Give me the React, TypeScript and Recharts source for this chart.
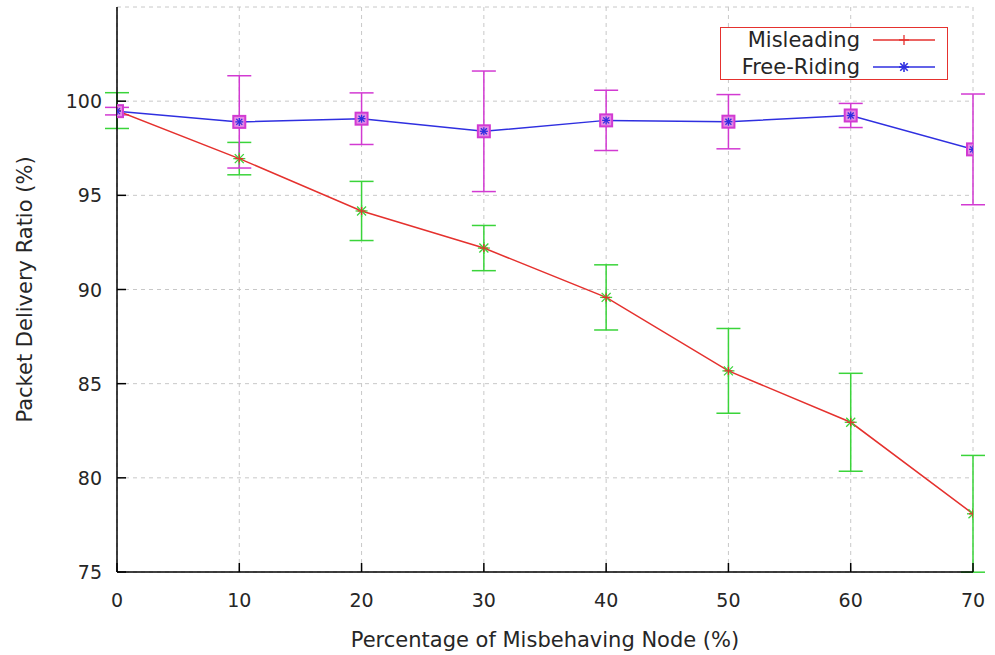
import React from 'react';
import { LineChart, Line, XAxis, YAxis, CartesianGrid, ErrorBar } from 'recharts';

const percentages = [0, 10, 20, 30, 40, 50, 60, 70];
const misleadingPdr = [99.5, 96.95, 94.17, 92.2, 89.58, 85.68, 82.95, 78.09];
const misleadingErr = [0.95, 0.86, 1.57, 1.2, 1.73, 2.25, 2.6, 3.1];
const freeRidingPdr = [99.47, 98.9, 99.07, 98.4, 98.98, 98.91, 99.24, 97.44];
const freeRidingErr = [0.2, 2.45, 1.37, 3.2, 1.6, 1.44, 0.64, 2.94];
const xTicks = [0, 10, 20, 30, 40, 50, 60, 70];
const yTicks = [75, 80, 85, 90, 95, 100];

const data = percentages.map((p, i) => ({
  pct: p,
  ml: misleadingPdr[i],
  mlErr: misleadingErr[i],
  fr: freeRidingPdr[i],
  frErr: freeRidingErr[i],
}));

const FONT = '"DejaVu Sans", sans-serif';
const TEXT = '#262626';
const RED = '#e5312e';
const BLUE = '#2f2fe0';
const GREEN = '#3ad43a';
const MAGENTA = '#d23ad2';

const BottomTick = (p: any) => (
  <g>
    <line x1={p.x} x2={p.x} y1={p.y} y2={p.y - 9} stroke="#000" strokeWidth={1.5} />
    <text x={p.x} y={p.y + 35} textAnchor="middle" fontSize={19} fill={TEXT} fontFamily={FONT}>
      {p.payload.value}
    </text>
  </g>
);
const TopTick = (p: any) => <line x1={p.x} x2={p.x} y1={p.y} y2={p.y + 9} stroke="#000" strokeWidth={1.5} />;
const LeftTick = (p: any) => (
  <g>
    <line x1={p.x} x2={p.x + 9} y1={p.y} y2={p.y} stroke="#000" strokeWidth={1.5} />
    <text x={p.x - 15} y={p.y + 7} textAnchor="end" fontSize={19} fill={TEXT} fontFamily={FONT}>
      {p.payload.value}
    </text>
  </g>
);
const RightTick = (p: any) => <line x1={p.x} x2={p.x - 9} y1={p.y} y2={p.y} stroke="#000" strokeWidth={1.5} />;

const Star = ({ cx, cy, r, color, w = 1.3 }: any) => (
  <g stroke={color} strokeWidth={w}>
    <line x1={cx - r} x2={cx + r} y1={cy} y2={cy} />
    <line x1={cx} x2={cx} y1={cy - r} y2={cy + r} />
    <line x1={cx - r * 0.75} x2={cx + r * 0.75} y1={cy - r * 0.75} y2={cy + r * 0.75} />
    <line x1={cx - r * 0.75} x2={cx + r * 0.75} y1={cy + r * 0.75} y2={cy - r * 0.75} />
  </g>
);
const Plus = ({ cx, cy, r, color }: any) => (
  <g stroke={color} strokeWidth={1.3}>
    <line x1={cx - r} x2={cx + r} y1={cy} y2={cy} />
    <line x1={cx} x2={cx} y1={cy - r} y2={cy + r} />
  </g>
);

const greenDot = (p: any) =>
  p.cx == null ? <g key={p.index} /> : <Star key={p.index} cx={p.cx} cy={p.cy} r={6} color={GREEN} />;
const squareDot = (p: any) =>
  p.cx == null ? (
    <g key={p.index} />
  ) : (
    <rect key={p.index} x={p.cx - 6} y={p.cy - 6} width={12} height={12} fill="#e58ae5" stroke={MAGENTA} strokeWidth={2} />
  );
const redDot = (p: any) =>
  p.cx == null ? <g key={p.index} /> : <Plus key={p.index} cx={p.cx} cy={p.cy} r={4} color={RED} />;
const blueDot = (p: any) =>
  p.cx == null ? <g key={p.index} /> : <Star key={p.index} cx={p.cx} cy={p.cy} r={4} color={BLUE} />;

const legendItems = [
  { name: 'Misleading', color: RED, marker: 'plus' },
  { name: 'Free-Riding', color: BLUE, marker: 'star' },
];

const ChartLegend = () => (
  <div
    style={{
      position: 'absolute',
      left: 720,
      top: 27,
      width: 228,
      height: 53,
      border: `1.5px solid ${RED}`,
      boxSizing: 'border-box',
      fontFamily: FONT,
      background: '#fff',
    }}
  >
    {legendItems.map((it, i) => (
      <div key={it.name} style={{ position: 'absolute', top: i * 27, left: 0, height: 24, width: 226 }}>
        <span style={{ position: 'absolute', right: 226 - 139, top: 0, fontSize: 21, lineHeight: '24px', color: TEXT, whiteSpace: 'nowrap' }}>
          {it.name}
        </span>
        <svg width={64} height={24} style={{ position: 'absolute', left: 152, top: 0 }}>
          <line x1={0} x2={62} y1={12} y2={12} stroke={it.color} strokeWidth={1.5} />
          {it.marker === 'plus' ? (
            <Plus cx={31} cy={12} r={5} color={it.color} />
          ) : (
            <Star cx={31} cy={12} r={5} color={it.color} w={1.6} />
          )}
        </svg>
      </div>
    ))}
  </div>
);

export default function App() {
  return (
    <div style={{ position: 'absolute', left: 0, top: 0, width: 995, height: 655, background: '#fff' }}>
      <LineChart width={995} height={655} data={data} margin={{ top: 7, right: 22, left: 0, bottom: 0 }}>
        <CartesianGrid stroke="#c8c8c8" strokeDasharray="4 4" />
        <XAxis
          dataKey="pct"
          type="number"
          domain={[0, 70]}
          ticks={xTicks}
          allowDataOverflow
          height={83}
          tickSize={0}
          tickMargin={0}
          tick={BottomTick}
          axisLine={{ stroke: '#000', strokeWidth: 1.5 }}
          label={{ value: 'Percentage of Misbehaving Node (%)', position: 'center', dy: 26, fontSize: 21, fill: TEXT, fontFamily: FONT }}
        />
        <XAxis
          xAxisId="top"
          orientation="top"
          dataKey="pct"
          type="number"
          domain={[0, 70]}
          ticks={xTicks}
          allowDataOverflow
          height={0}
          tickSize={0}
          tickMargin={0}
          tick={TopTick}
          axisLine={{ stroke: '#000', strokeWidth: 1.5 }}
        />
        <YAxis
          type="number"
          domain={[75, 105]}
          ticks={yTicks}
          allowDataOverflow
          width={117}
          tickSize={0}
          tickMargin={0}
          tick={LeftTick}
          axisLine={{ stroke: '#000', strokeWidth: 1.5 }}
          label={{ value: 'Packet Delivery Ratio (%)', angle: -90, position: 'center', dx: -34, fontSize: 21, fill: TEXT, fontFamily: FONT }}
        />
        <YAxis
          yAxisId="right"
          orientation="right"
          type="number"
          domain={[75, 105]}
          ticks={yTicks}
          allowDataOverflow
          width={0}
          tickSize={0}
          tickMargin={0}
          tick={RightTick}
          axisLine={{ stroke: '#000', strokeWidth: 1.5 }}
        />
        <Line
          xAxisId="top"
          yAxisId="right"
          dataKey="ml"
          stroke="none"
          dot={greenDot}
          activeDot={false}
          legendType="none"
          isAnimationActive={false}
        >
          <ErrorBar dataKey="mlErr" direction="y" width={12} stroke={GREEN} strokeWidth={1.5} isAnimationActive={false} />
        </Line>
        <Line
          xAxisId="top"
          yAxisId="right"
          dataKey="fr"
          stroke="none"
          dot={squareDot}
          activeDot={false}
          legendType="none"
          isAnimationActive={false}
        >
          <ErrorBar dataKey="frErr" direction="y" width={12} stroke={MAGENTA} strokeWidth={1.5} isAnimationActive={false} />
        </Line>
        <Line
          dataKey="ml"
          name="Misleading"
          stroke={RED}
          strokeWidth={1.5}
          dot={redDot}
          activeDot={false}
          isAnimationActive={false}
        />
        <Line
          dataKey="fr"
          name="Free-Riding"
          stroke={BLUE}
          strokeWidth={1.5}
          dot={blueDot}
          activeDot={false}
          isAnimationActive={false}
        />
      </LineChart>
      <ChartLegend />
    </div>
  );
}
